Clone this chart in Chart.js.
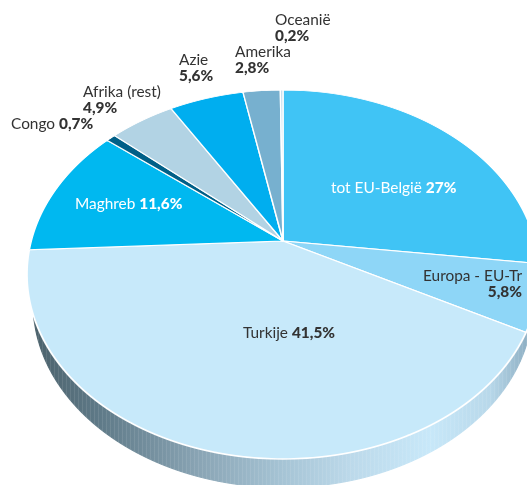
<!DOCTYPE html>
<html><head><meta charset="utf-8">
<script src="https://cdn.jsdelivr.net/npm/chart.js@4"></script>
<style>html,body{margin:0;padding:0;background:#fff;overflow:hidden}canvas{display:block}</style>
</head><body><canvas id="c" width="527" height="485"></canvas>
<script>
const categories = ['tot EU-België','Europa - EU-Tr','Turkije','Maghreb','Congo','Afrika (rest)','Azie','Amerika','Oceanië'];
const shares = [27,5.8,41.5,11.6,0.7,4.9,5.6,2.8,0.2];
const sliceColors = ['#40c4f5','#8ed6f7','#c7e9fa','#00b8f0','#005f87','#b2d3e4','#00aeef','#77b0cf','#c5dfee'];
// label placement: [x, baseline of name, baseline of value (null = same line), align, colour]
const labelPlace = [
 [331,193,null,'left','#ffffff'],
 [522,281,297,'right','#333333'],
 [243,338,null,'left','#333333'],
 [75,209,null,'left','#ffffff'],
 [11,129,null,'left','#333333'],
 [83,97,113,'left','#333333'],
 [179,65,81,'left','#333333'],
 [235,57,73,'left','#333333'],
 [275,25,41,'left','#333333']
];
// perspective of the disc: apex, horizontal and vertical scale, tilt
const topFace = {x0:283,y0:241,k:251.7,m:178.4,p:0.1816};
const rimFace = {x0:283,y0:269.5,k:245.8,m:178.4,p:0.1816};
const rimStops = [[35,'#4c626c'],[100,'#5f7a88'],[200,'#8aa5b5'],[283,'#a6c4d5'],[350,'#bcd9ea'],[430,'#c8e8f9'],[490,'#b8d8ea'],[527,'#8fb0c4']];
const W = 527, H = 485;

function renderFace(chart, meta, f){
  const ctx = chart.ctx, a = meta.data[0], R = a.outerRadius, cx = a.x, cy = a.y;
  for(let Y=0;Y<H;Y++){
    const dy = Y+0.5-f.y0, den = f.m+f.p*dy, v = dy/den;
    if(Math.abs(v)>1.03) continue;
    const g = f.k/(1-f.p*v), sy = den*den/f.m/R;
    ctx.save();
    ctx.setTransform(1,0,0,1,0,0);
    ctx.beginPath(); ctx.rect(0,Y,W,1); ctx.clip();
    ctx.setTransform(g/R,0,0,sy,f.x0-cx*g/R,Y+0.5-(cy+v*R)*sy);
    meta.controller.draw();
    ctx.restore();
  }
}
const perspective = {
  id:'perspective',
  beforeDatasetDraw(chart,args){
    const ctx = chart.ctx, meta = args.meta;
    const saved = meta.data.map(e=>e.options);
    meta.data.forEach(e=>{e.options = Object.assign({},e.options,{backgroundColor:'#000',borderColor:'#000',borderWidth:1});});
    renderFace(chart,meta,rimFace);
    meta.data.forEach((e,i)=>{e.options = saved[i];});
    ctx.save();
    ctx.setTransform(1,0,0,1,0,0);
    ctx.globalCompositeOperation='source-atop';
    const grad = ctx.createLinearGradient(0,0,W,0);
    rimStops.forEach(s=>grad.addColorStop(s[0]/W,s[1]));
    ctx.fillStyle = grad; ctx.fillRect(0,0,W,H);
    ctx.fillStyle = 'rgba(255,255,255,0.09)';
    for(let x=30;x<W;x+=4) ctx.fillRect(x,0,1,H);
    ctx.restore();
    renderFace(chart,meta,topFace);
    return false;
  }
};
const fmt = v => String(v).replace('.',',')+'%';
const labels = {
  id:'labels',
  afterDraw(chart){
    const ctx = chart.ctx, n='15.4px Lato', b='900 15.4px Lato';
    ctx.save(); ctx.textBaseline='alphabetic';
    categories.forEach((name,i)=>{
      const [x,y1,y2,al,col] = labelPlace[i], val = fmt(shares[i]);
      ctx.fillStyle = col; ctx.textAlign = al;
      ctx.font = n;
      ctx.fillText(name,x,y1);
      if(y2===null){
        const w = ctx.measureText(name+' ').width;
        ctx.font = b; ctx.fillText(val,x+w,y1);
      } else {
        ctx.font = b; ctx.fillText(val,x,y2);
      }
    });
    ctx.restore();
  }
};
new Chart(document.getElementById('c'),{
  type:'pie',
  data:{labels:categories,datasets:[{data:shares,backgroundColor:sliceColors,borderColor:'#ffffff',borderWidth:1.5}]},
  options:{responsive:false,animation:false,layout:{padding:0},
    plugins:{legend:{display:false},tooltip:{enabled:false}}},
  plugins:[perspective,labels]
});
</script></body></html>
